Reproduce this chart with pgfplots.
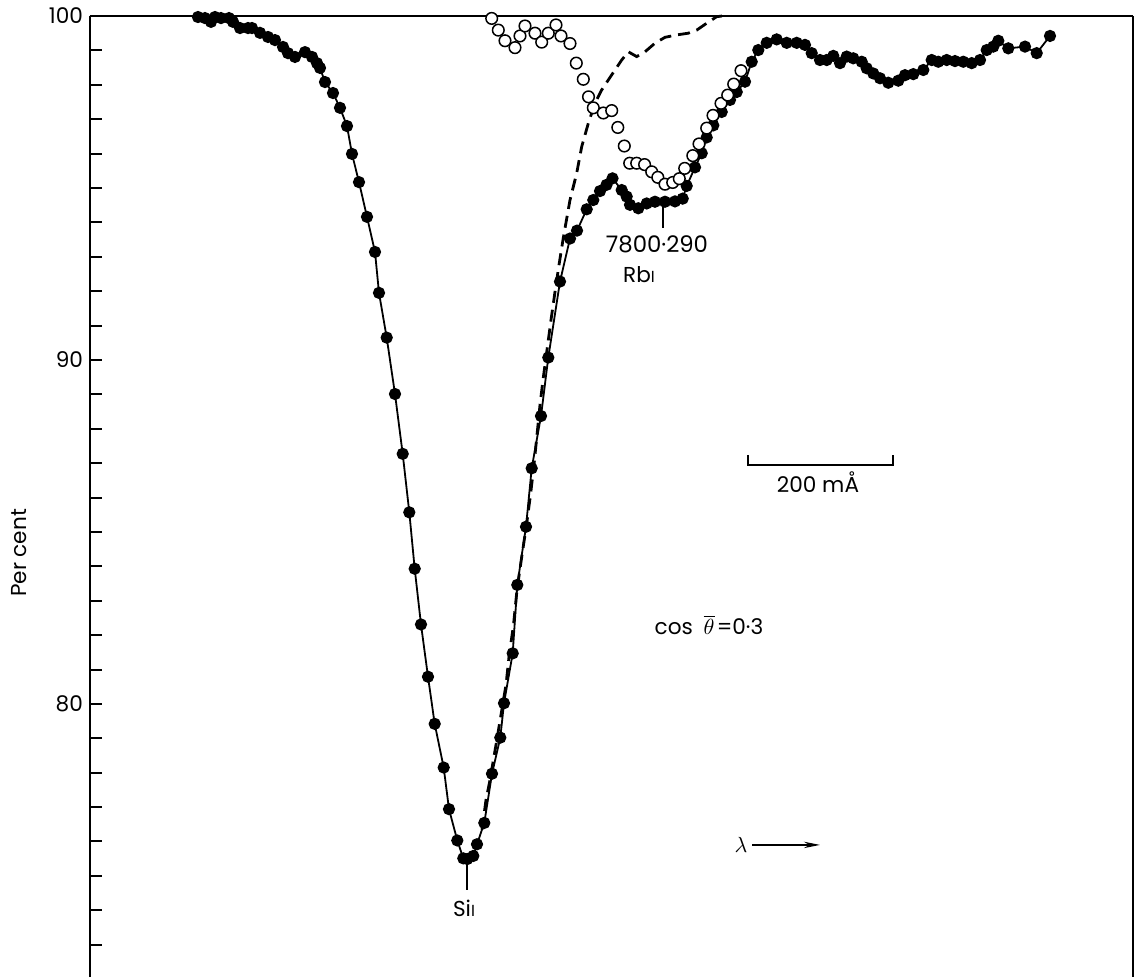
\documentclass[border=0pt]{standalone}
\usepackage{pgfplots}
\pgfplotsset{compat=1.18}
\usepackage{pgfplotstable}
\usepackage{fontspec}
\setmainfont{Poppins}
\usetikzlibrary{arrows.meta}

% x: position along the scan (1 unit = 1.38 mA), y: per cent of continuum
\pgfplotstableread{
x y
198 99.97
205 99.94
211 99.83
215 99.97
221 99.94
229 99.94
233 99.83
240 99.65
248 99.65
252 99.65
260 99.51
268 99.39
275 99.30
283 99.10
288 98.92
295 98.81
305 98.95
312 98.81
317 98.63
320 98.49
325 98.08
333 97.76
340 97.33
347 96.80
352 95.99
359 95.17
367 94.16
375 93.14
379 91.95
386.7 90.65
395 89.01
402.7 87.27
409.3 85.57
414.7 83.93
421 82.31
428 80.79
434.7 79.42
443.7 78.15
449 76.94
457.3 76.03
463.3 75.51
467.3 75.49
473.3 75.58
477 75.92
484.3 76.54
492 77.97
500.3 79.02
504 80.02
512.7 81.47
517.3 83.46
526 85.15
531.7 86.85
541 88.37
548.3 90.07
560 92.28
570 93.53
577 93.76
586.7 94.38
593.3 94.65
600 94.91
606.5 95.09
612.5 95.28
621.7 94.94
626.7 94.75
630 94.51
638.3 94.41
646.7 94.55
655 94.60
665 94.60
675 94.61
682.7 94.69
686.7 95.06
695 95.60
701.7 96.01
706.7 96.47
713.3 96.82
721.7 97.21
730 97.56
736.7 97.79
745 98.09
751.7 98.67
758.3 99.01
766.7 99.22
776.7 99.32
786.7 99.22
796.7 99.22
805 99.16
811.7 98.92
820 98.72
826.7 98.72
833.3 98.84
840 98.63
846.7 98.82
853.3 98.77
861.7 98.67
866.7 98.48
873.3 98.33
880 98.19
888.3 98.06
898.3 98.12
905 98.28
913.3 98.31
923.3 98.43
931.7 98.72
938.3 98.67
946.7 98.72
955 98.69
963.3 98.67
971.7 98.63
980 98.72
986.7 99.01
993.3 99.11
998.3 99.28
1008.3 99.06
1025 99.11
1036.7 98.92
1050 99.42
}\filled

\pgfplotstableread{
x y
482 76.34
486 77.21
490 77.79
496 78.81
501.5 79.77
506 80.55
509 81.37
513.5 82.30
517 83.31
522 84.33
526.5 85.20
530.5 86.08
534 86.95
537 87.82
540 88.69
543 89.42
547 90.29
551 91.16
555 91.98
559 92.76
563.3 93.55
570 94.65
576.7 95.43
581.7 96.20
588.3 96.88
595 97.46
601.7 97.85
608.3 98.14
615 98.43
621.7 98.72
628.3 98.96
636.7 98.82
645 98.96
655 99.21
665 99.38
676.7 99.45
688.3 99.50
696.7 99.59
706.7 99.79
716.7 99.98
722 100
}\dashed

\pgfplotstableread{
x y
491.7 99.93
498.3 99.59
505 99.28
515 99.08
520 99.42
525 99.71
535 99.50
541.7 99.24
548.3 99.50
556 99.74
561 99.42
570 99.20
576.3 98.63
583.3 98.16
588.5 97.65
593.3 97.33
603.3 97.18
611.7 97.25
617.8 96.76
624.3 96.22
629.7 95.72
636.7 95.72
644.6 95.68
651.7 95.47
657.8 95.31
665 95.11
672.7 95.16
679.3 95.27
684.7 95.57
692.8 95.94
699 96.28
706.7 96.74
713 97.11
721 97.46
727.7 97.70
733.7 98.02
741 98.41
}\opencirc

\newcommand{\lab}{\fontsize{10.8}{12}\selectfont}
\begin{document}
\begin{tikzpicture}
\begin{axis}[
  scale only axis,
  width=521.5pt, height=480.5pt,
  xmin=90, xmax=1133,
  ymin=72.06, ymax=100,
  hide x axis,
  ytick={80,90,100},
  minor ytick={73,74,...,79,81,82,...,89,91,92,...,99},
  ytick pos=left,
  tick align=inside,
  major tick length=6pt, minor tick length=6pt,
  every tick/.style={black, line width=1pt},
  axis line style={line width=1.3pt},
  yticklabel style={font=\lab},
  /pgf/number format/assume math mode=true,
  clip=false,
]
\coordinate (SW) at (rel axis cs:0,0);
\coordinate (NE) at (rel axis cs:1,1);
\draw[line width=1.0pt] (rel axis cs:0,1) -- (rel axis cs:1,1);

\addplot[black, line width=0.9pt, mark=*, mark size=2.6pt, mark options={solid}] table {\filled};
\addplot[black, line width=1.4pt, dash pattern=on 6pt off 3.5pt] table {\dashed};
\addplot[only marks, mark=*, mark size=2.9pt, mark options={fill=white, draw=black, line width=0.75pt}] table {\opencirc};

% annotations
\draw[line width=0.6pt] (axis cs:663,94.56) -- (axis cs:663,93.84);
\node[font=\fontsize{11.4}{13}\selectfont] at (axis cs:657,93.37) {7800·290};
\node[font=\lab] at (axis cs:639,92.47) {Rb{\fontsize{8}{9}\selectfont I}};
\draw[line width=0.6pt] (axis cs:467,75.41) -- (axis cs:467,74.59);
\node[font=\lab] at (axis cs:464,74.07) {Si{\fontsize{8}{9}\selectfont I}};
\draw[line width=1.0pt] (axis cs:747.7,87.24) -- (axis cs:747.7,86.95) -- (axis cs:892.7,86.95) -- (axis cs:892.7,87.24);
\node[font=\lab] at (axis cs:818,86.45) {200 mÅ};
\node[font=\lab, inner sep=1pt] at (axis cs:709,82.30) {cos\hspace{0.5em}$\overline{\theta}$\hspace{0.1em}=0·3};
\node[font=\lab] at (axis cs:741,75.90) {$\lambda$};
\draw[line width=0.7pt, -{Stealth[length=8pt,width=3.2pt]}] (axis cs:752,75.90) -- (axis cs:820,75.90);
\node[font=\lab, rotate=90] at (axis cs:19,84.39) {Per cent};
\end{axis}
\pgfresetboundingbox
\path[use as bounding box] ([xshift=-45pt]SW) rectangle ([xshift=1.5pt,yshift=8pt]NE);
\end{tikzpicture}
\end{document}
